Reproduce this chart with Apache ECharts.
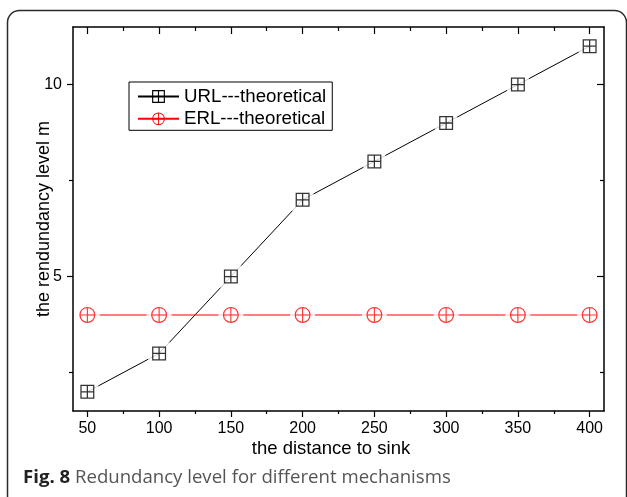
<!DOCTYPE html>
<html>
<head>
<meta charset="utf-8">
<script src="https://cdn.jsdelivr.net/npm/echarts@6/dist/echarts.min.js"></script>
<style>
  html, body { margin: 0; padding: 0; background: #fff; }
  #chart { width: 627px; height: 497px; }
</style>
</head>
<body>
<div id="chart"></div>
<script>
// Distance to sink (x) and redundancy level for each mechanism
const distance = [50, 100, 150, 200, 250, 300, 350, 400];
const urlValues = [2, 3, 5, 7, 8, 9, 10, 11];
const erlValues = [4, 4, 4, 4, 4, 4, 4, 4];

// Tick positions
const xTickValues = [50, 100, 150, 200, 250, 300, 350, 400];
const xMinorTickValues = [75, 125, 175, 225, 275, 325, 375];
const yTickValues = [5, 10];
const yMinorTickValues = [2.5, 7.5];

const seriesNames = ['URL---theoretical', 'ERL---theoretical'];

// Square with a cross inside (outer square, four holes)
const squareCross = 'path://M0 0H100V100H0Z' +
  'M9 9V45.5H45.5V9Z' +
  'M54.5 9V45.5H91V9Z' +
  'M9 54.5V91H45.5V54.5Z' +
  'M54.5 54.5V91H91V54.5Z';

// Circle with a plus inside (outer disc, four quarter holes)
const circlePlus = 'path://M50 0A50 50 0 1 1 50 100A50 50 0 1 1 50 0Z' +
  'M46.5 8.15A42 42 0 0 0 8.15 46.5L46.5 46.5Z' +
  'M91.85 46.5A42 42 0 0 0 53.5 8.15L53.5 46.5Z' +
  'M53.5 91.85A42 42 0 0 0 91.85 53.5L53.5 53.5Z' +
  'M8.15 53.5A42 42 0 0 0 46.5 91.85L46.5 53.5Z';

const urlData = distance.map((d, i) => [d, urlValues[i]]);
const erlData = distance.map((d, i) => [d, erlValues[i]]);

const FONT = '"Liberation Sans", Arial, sans-serif';
const X_MIN = 40, X_MAX = 410, Y_MIN = 1.5, Y_MAX = 11.5;

function xAxisDef(position, values, len, inside, withLabels, withLine) {
  return {
    type: 'value', position: position, min: X_MIN, max: X_MAX,
    axisLine: { show: withLine, onZero: false, lineStyle: { color: '#000', width: 1.5 } },
    axisTick: { show: true, inside: inside, length: len, customValues: values,
                lineStyle: { color: '#000', width: 1.2 } },
    axisLabel: withLabels
      ? { show: true, customValues: values, color: '#000', fontSize: 16, fontFamily: FONT, margin: 10 }
      : { show: false },
    splitLine: { show: false }
  };
}
function yAxisDef(position, values, len, inside, withLabels, withLine) {
  return {
    type: 'value', position: position, min: Y_MIN, max: Y_MAX,
    axisLine: { show: withLine, onZero: false, lineStyle: { color: '#000', width: 1.5 } },
    axisTick: { show: true, inside: inside, length: len, customValues: values,
                lineStyle: { color: '#000', width: 1.2 } },
    axisLabel: withLabels
      ? { show: true, customValues: values, color: '#000', fontSize: 16, fontFamily: FONT, margin: 11 }
      : { show: false },
    splitLine: { show: false }
  };
}

const xBottom = xAxisDef('bottom', xTickValues, 6, false, true, true);
xBottom.name = 'the distance to sink';
xBottom.nameLocation = 'middle';
xBottom.nameGap = 28;
xBottom.nameMoveOverlap = false;
xBottom.nameTextStyle = { color: '#000', fontSize: 18.5, fontFamily: FONT, padding: [0, 15, 0, 0] };

const yLeft = yAxisDef('left', yTickValues, 6, false, true, true);
yLeft.name = 'the rendundancy level m';
yLeft.nameLocation = 'middle';
yLeft.nameGap = 20;
yLeft.nameMoveOverlap = false;
yLeft.nameTextStyle = { color: '#000', fontSize: 18, fontFamily: FONT };

const chart = echarts.init(document.getElementById('chart'), null, { renderer: 'canvas' });

chart.setOption({
  animation: false,
  backgroundColor: '#fff',
  grid: { left: 73, right: 23, top: 27, bottom: 86, containLabel: false },
  xAxis: [
    xBottom,
    xAxisDef('top', xTickValues, 7, true, false, true),
    xAxisDef('bottom', xMinorTickValues, 3, false, false, false),
    xAxisDef('top', xMinorTickValues, 4, true, false, false)
  ],
  yAxis: [
    yLeft,
    yAxisDef('right', yTickValues, 7, true, false, true),
    yAxisDef('left', yMinorTickValues, 4, false, false, false),
    yAxisDef('right', yMinorTickValues, 4, true, false, false)
  ],
  legend: {
    data: seriesNames,
    orient: 'vertical',
    left: 129, top: 82,
    padding: [5, 6, 2, 8],
    itemWidth: 41, itemHeight: 16, itemGap: 3.3,
    borderColor: '#000', borderWidth: 1,
    backgroundColor: '#fff',
    textStyle: { color: '#000', fontSize: 18.7, fontFamily: FONT }
  },
  series: [
    // connecting lines (also feed the legend)
    {
      name: seriesNames[0], type: 'line', data: urlData, z: 2,
      symbol: squareCross, symbolSize: 14, showSymbol: false,
      itemStyle: { color: '#000' }, lineStyle: { color: '#000', width: 1 }
    },
    {
      name: seriesNames[1], type: 'line', data: erlData, z: 2,
      symbol: circlePlus, symbolSize: 16, showSymbol: false,
      itemStyle: { color: '#ff0000' }, lineStyle: { color: '#ff0000', width: 1 }
    },
    // white halos that leave a small gap between lines and markers
    {
      name: 'urlHalo', type: 'scatter', data: urlData, z: 3, silent: true,
      symbol: 'rect', symbolSize: 22, itemStyle: { color: '#fff' }
    },
    {
      name: 'erlHalo', type: 'scatter', data: erlData, z: 3, silent: true,
      symbol: 'circle', symbolSize: 25, itemStyle: { color: '#fff' }
    },
    // markers
    {
      name: 'urlMarks', type: 'scatter', data: urlData, z: 4, silent: true,
      symbol: squareCross, symbolSize: 14, itemStyle: { color: '#000' }
    },
    {
      name: 'erlMarks', type: 'scatter', data: erlData, z: 4, silent: true,
      symbol: circlePlus, symbolSize: 16, itemStyle: { color: '#ff0000' }
    }
  ],
  graphic: [
    {
      type: 'rect', silent: true, z: 10,
      shape: { x: 7.5, y: 10.5, width: 619, height: 510, r: 12 },
      style: { fill: 'none', stroke: '#2a2a2a', lineWidth: 1.5 }
    },
    {
      type: 'text', silent: true, z: 10,
      style: {
        x: 23, y: 478,
        text: '{b|Fig. 8} Redundancy level for different mechanisms',
        verticalAlign: 'middle',
        fill: '#555',
        font: '18.6px "Open Sans", sans-serif',
        rich: {
          b: { fontWeight: 'bold', fill: '#222', fontSize: 18.6, fontFamily: '"Open Sans", sans-serif' }
        }
      }
    }
  ]
});
</script>
</body>
</html>
